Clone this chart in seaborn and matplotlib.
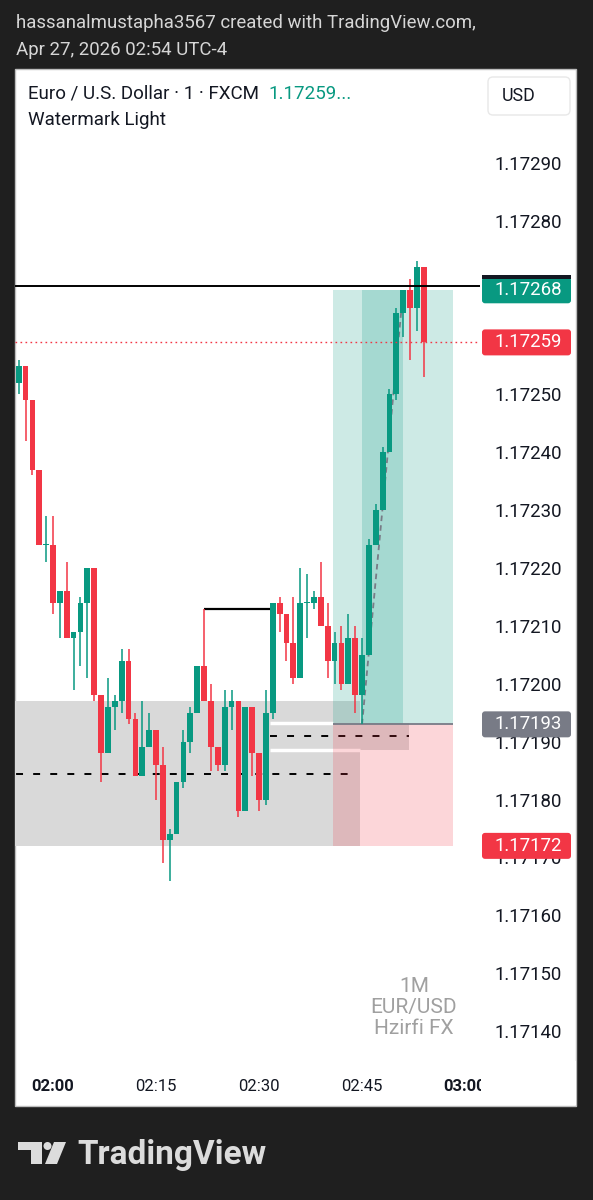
import matplotlib
matplotlib.use('Agg')
import matplotlib.pyplot as plt
import matplotlib.dates as mdates
from matplotlib.patches import Rectangle, FancyBboxPatch, Circle, Polygon
import pandas as pd
import seaborn as sns

W, H = 593, 1200
UP, DOWN = '#089981', '#f23645'

# 1 minute EUR/USD candles, 01:55 -> 02:54
times = pd.date_range('2026-04-27 01:55', periods=60, freq='min')
opens = [1.17252, 1.17255, 1.17249, 1.17237, 1.17224, 1.17224, 1.17214, 1.17216, 1.17208, 1.17209,
         1.17214, 1.17220, 1.17198, 1.17188, 1.17196, 1.17197, 1.17204, 1.17194, 1.17184, 1.17189,
         1.17192, 1.17186, 1.17173, 1.17174, 1.17183, 1.17190, 1.17195, 1.17203, 1.17197, 1.17189,
         1.17186, 1.17196, 1.17197, 1.17178, 1.17196, 1.17188, 1.17180, 1.17195, 1.17214, 1.17212,
         1.17207, 1.17201, 1.17214, 1.17214, 1.17215, 1.17210, 1.17204, 1.17207, 1.17200, 1.17208,
         1.17198, 1.17205, 1.17224, 1.17230, 1.17240, 1.17250, 1.17264, 1.17268, 1.17265, 1.17272]
highs = [1.17256, 1.17255, 1.17249, 1.17237, 1.17229, 1.17229, 1.17216, 1.17221, 1.17209, 1.17215,
         1.17220, 1.17220, 1.17198, 1.17201, 1.17198, 1.17206, 1.17206, 1.17195, 1.17197, 1.17195,
         1.17192, 1.17189, 1.17175, 1.17183, 1.17192, 1.17196, 1.17203, 1.17213, 1.17200, 1.17189,
         1.17199, 1.17199, 1.17197, 1.17196, 1.17196, 1.17188, 1.17199, 1.17214, 1.17215, 1.17212,
         1.17215, 1.17220, 1.17219, 1.17216, 1.17221, 1.17214, 1.17209, 1.17210, 1.17212, 1.17210,
         1.17208, 1.17225, 1.17231, 1.17241, 1.17251, 1.17265, 1.17268, 1.17270, 1.17273, 1.17272]
lows = [1.17250, 1.17242, 1.17236, 1.17224, 1.17221, 1.17212, 1.17208, 1.17208, 1.17199, 1.17203,
        1.17201, 1.17197, 1.17183, 1.17188, 1.17192, 1.17195, 1.17193, 1.17184, 1.17184, 1.17189,
        1.17180, 1.17169, 1.17166, 1.17174, 1.17182, 1.17188, 1.17195, 1.17197, 1.17185, 1.17185,
        1.17185, 1.17192, 1.17177, 1.17178, 1.17184, 1.17178, 1.17179, 1.17194, 1.17209, 1.17204,
        1.17200, 1.17201, 1.17208, 1.17213, 1.17210, 1.17201, 1.17200, 1.17199, 1.17200, 1.17195,
        1.17193, 1.17205, 1.17224, 1.17230, 1.17240, 1.17249, 1.17260, 1.17256, 1.17261, 1.17253]
closes = [1.17255, 1.17249, 1.17237, 1.17224, 1.17224, 1.17214, 1.17216, 1.17208, 1.17209, 1.17214,
          1.17220, 1.17198, 1.17188, 1.17196, 1.17197, 1.17204, 1.17194, 1.17184, 1.17189, 1.17192,
          1.17186, 1.17173, 1.17174, 1.17183, 1.17190, 1.17195, 1.17203, 1.17197, 1.17189, 1.17186,
          1.17196, 1.17197, 1.17178, 1.17196, 1.17188, 1.17180, 1.17195, 1.17214, 1.17212, 1.17207,
          1.17201, 1.17214, 1.17214, 1.17215, 1.17210, 1.17204, 1.17207, 1.17200, 1.17208, 1.17198,
          1.17205, 1.17224, 1.17230, 1.17240, 1.17250, 1.17264, 1.17268, 1.17265, 1.17272, 1.17259]

price_ticks = [1.17290, 1.17280, 1.17250, 1.17240, 1.17230, 1.17220, 1.17210,
               1.17200, 1.17190, 1.17180, 1.17170, 1.17160, 1.17150, 1.17140]
time_ticks = ['02:00', '02:15', '02:30', '02:45', '03:00']

# drawings on the chart
hline_level = 1.172687
last_price = 1.17259
entry, target, stop = 1.17193, 1.17268, 1.17172
zone_a = (1.17172, 1.17197)
zone_b = (1.171886, 1.171932)
sweep_level = 1.17213
scale_labels = [(1.17268, UP), (1.17259, DOWN), (1.17193, '#787b86'), (1.17172, DOWN)]

sns.set_theme(style='white')
plt.rcParams['font.family'] = ['Roboto', 'DejaVu Sans']
plt.rcParams['lines.scale_dashes'] = False

fig = plt.figure(figsize=(W / 100, H / 100), dpi=100, facecolor='#1f1f1f')

# background layer in pixel coordinates
bg = fig.add_axes([0, 0, 1, 1], zorder=-1)
bg.set_xlim(0, W)
bg.set_ylim(H, 0)
bg.axis('off')
bg.add_patch(Rectangle((15, 69), 561, 1037, facecolor='white', edgecolor='#bdbdbd', lw=1))
bg.text(16, 23, 'hassanalmustapha3567 created with TradingView.com,', color='#d6d6d6',
        fontsize=13.45, va='center')
bg.text(16, 50, 'Apr 27, 2026 02:54 UTC-4', color='#d6d6d6', fontsize=13.45, va='center')
# TradingView logo
bg.add_patch(Polygon([(18, 1142), (42, 1142), (42, 1164), (31, 1164), (31, 1150), (18, 1150)],
                     closed=True, color='#dcdcdc', lw=0))
bg.add_patch(Circle((47.5, 1146), 4, color='#dcdcdc', lw=0))
bg.add_patch(Polygon([(54, 1142), (66, 1142), (57, 1164), (45, 1164)], closed=True, color='#dcdcdc', lw=0))
bg.text(77, 1164, 'TradingView', color='#dcdcdc', fontsize=24, fontweight='bold', va='baseline')


def fpos(x0, y0, x1, y1):
    return [x0 / W, 1 - y1 / H, (x1 - x0) / W, (y1 - y0) / H]


ax = fig.add_axes(fpos(15, 69, 480, 1060))
ax.set_facecolor('none')
for s in ax.spines.values():
    s.set_visible(False)

x = mdates.date2num(times)
minute = 1 / 1440
t0 = mdates.date2num(pd.Timestamp('2026-04-27 02:00'))

ax.set_xlim(t0 - 5.534 * minute, t0 + 62.18 * minute)
ax.set_ylim(1.1713500, 1.1730624)

# zones
p0, p1 = t0 + 40.8 * minute, t0 + 58.2 * minute
ax.add_patch(Rectangle((t0 - 10 * minute, zone_a[0]), 54.7 * minute, zone_a[1] - zone_a[0],
                       facecolor='#d9d9d9', lw=0, zorder=1))
ax.hlines((zone_a[0] + zone_a[1]) / 2, t0 - 10 * minute, t0 + 43.8 * minute, color='black',
          lw=1.4, linestyles=(0, (5, 7.3)), zorder=2)
ax.add_patch(Rectangle((t0 + 31.6 * minute, zone_b[0]), 20.2 * minute, zone_b[1] - zone_b[0],
                       facecolor='#d9d9d9', lw=0, zorder=1.2))
ax.hlines(zone_b[1], t0 + 31.6 * minute, p0, color='white', lw=2.5, zorder=1.3)
ax.hlines(zone_b[0], t0 + 31.6 * minute, t0 + 44.7 * minute, color='white', lw=2.5, zorder=1.3)
ax.hlines(sum(zone_b) / 2, t0 + 31.6 * minute, t0 + 51.8 * minute, color='black',
          lw=1.4, linestyles=(0, (5, 7.3)), zorder=2)

# long position tool
ax.add_patch(Rectangle((p0, entry), p1 - p0, target - entry, facecolor=UP, alpha=0.2, lw=0, zorder=3))
ax.add_patch(Rectangle((p0, stop), p1 - p0, entry - stop, facecolor=DOWN, alpha=0.2, lw=0, zorder=3))
ax.add_patch(Rectangle((t0 + 45 * minute, entry), 6 * minute, target - entry, facecolor=UP,
                       alpha=0.2, lw=0, zorder=3.1))
ax.hlines(entry, p0, p1, color='#787b86', lw=1.3, zorder=3.2)
ax.plot([t0 + 45 * minute, t0 + 51 * minute], [entry, target], color='#787b86', lw=1.3,
        ls=(0, (4, 3)), zorder=3.3)

# level lines
ax.axhline(hline_level, color='black', lw=1.4, zorder=6)
ax.axhline(last_price, color=DOWN, lw=1, ls=(0, (1.2, 2.4)), zorder=6)
ax.hlines(sweep_level, t0 + 22 * minute, t0 + 31.6 * minute, color='black', lw=1.6, zorder=4)

# candles
colors = [UP if c >= o else DOWN for o, c in zip(opens, closes)]
bottoms = [min(o, c) for o, c in zip(opens, closes)]
heights = [max(abs(c - o), 0.0000015) for o, c in zip(opens, closes)]
ax.vlines(x, lows, highs, colors=colors, lw=1.1, zorder=5)
ax.bar(x, heights, bottom=bottoms, width=0.84 * minute, color=colors, lw=0, zorder=5.5)

# axes ticks
ax.yaxis.tick_right()
ax.set_yticks(price_ticks)
ax.set_yticklabels([f'{p:.5f}' for p in price_ticks])
ax.set_xticks([t0 + i * 15 * minute for i in range(len(time_ticks))])
ax.set_xticklabels(time_ticks)
ax.tick_params(axis='y', length=0, pad=10.8, labelsize=13.4, labelcolor='#131722')
ax.tick_params(axis='x', length=0, pad=13.5, labelsize=12, labelcolor='#131722')
for lab in ax.get_xticklabels():
    if lab.get_text() in ('02:00', '03:00'):
        lab.set_fontweight('bold')
ax.grid(False)

# price scale labels
ax2 = fig.add_axes(fpos(480, 69, 576, 1060), sharey=ax)
ax2.set_facecolor('none')
ax2.set_xlim(0, 96)
ax2.axis('off')
ppx = (1.1730624 - 1.1713500) / (1060 - 69)
for level, col in scale_labels:
    ax2.add_patch(FancyBboxPatch((2, level - 13 * ppx), 89, 26 * ppx,
                                 boxstyle='round,pad=0,rounding_size=3', mutation_aspect=ppx,
                                 facecolor=col, lw=0, zorder=3))
    ax2.text(48.5, level, f'{level:.5f}', color='white', fontsize=13.4, ha='center', va='center',
             zorder=4)
ax2.add_patch(Rectangle((2, 1.17268 + 11 * ppx), 89, 4 * ppx, facecolor='#131722', lw=0, zorder=3.5))

# foreground layer
fg = fig.add_axes([0, 0, 1, 1], zorder=10)
fg.set_facecolor('none')
fg.set_xlim(0, W)
fg.set_ylim(H, 0)
fg.axis('off')
fg.add_patch(Rectangle((480.5, 1061), 95, 44, facecolor='white', lw=0))
fg.text(28, 94, 'Euro / U.S. Dollar · 1 · FXCM', color='#131722', fontsize=13.5, va='center')
fg.text(268, 94, '1.17259...', color=UP, fontsize=13.5, va='center')
fg.text(28, 120, 'Watermark Light', color='#131722', fontsize=13.5, va='center')
fg.add_patch(FancyBboxPatch((488, 77), 82, 38, boxstyle='round,pad=0,rounding_size=5',
                            facecolor='white', edgecolor='#e8e8e8', lw=1))
fg.text(519, 96, 'USD', color='#131722', fontsize=12.8, ha='center', va='center')
for yy, txt in zip([986, 1007, 1028], ['1M', 'EUR/USD', 'Hzirfi FX']):
    fg.text(414, yy, txt, color='#a0a0a0', fontsize=15, ha='center', va='center')

fig.savefig('out.png', dpi=100, facecolor=fig.get_facecolor())
